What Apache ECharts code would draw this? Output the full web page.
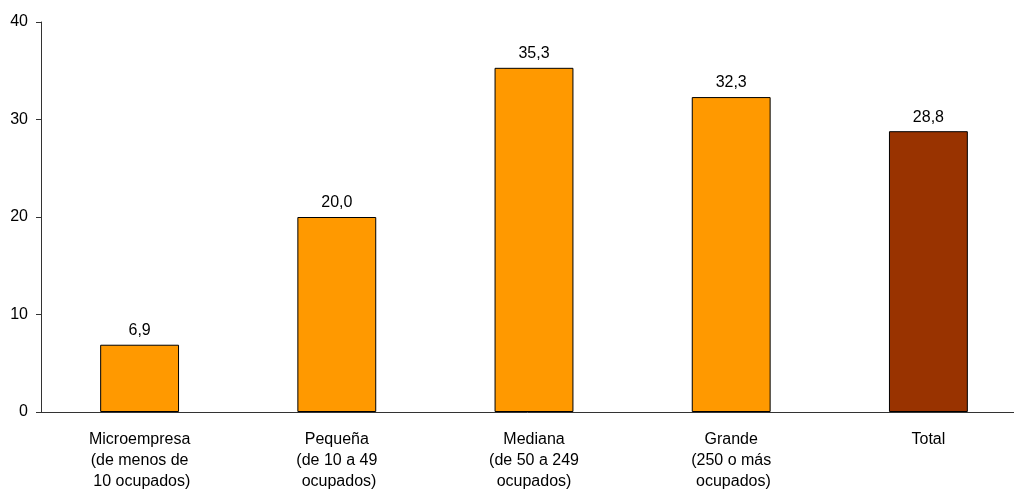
<!DOCTYPE html>
<html><head><meta charset="utf-8">
<script src="https://cdn.jsdelivr.net/npm/echarts@6/dist/echarts.min.js"></script>
<style>html,body{margin:0;padding:0;background:#fff}#c{width:1014px;height:489px}</style>
</head><body><div id="c"></div>
<script>
const categories = ["Microempresa\n(de menos de\n 10 ocupados)", "Pequeña\n(de 10 a 49\n ocupados)", "Mediana\n(de 50 a 249\nocupados)", "Grande\n(250 o más\n ocupados)", "Total"];
const values = [6.9, 20.0, 35.3, 32.3, 28.8];
const barColors = ["#FF9900", "#FF9900", "#FF9900", "#FF9900", "#993300"];
const yTicks = [0, 10, 20, 30, 40];

const chart = echarts.init(document.getElementById('c'), null, {renderer: 'canvas'});
chart.setOption({
  animation: false,
  backgroundColor: '#fff',
  textStyle: {fontFamily: 'Liberation Sans, Arial, sans-serif'},
  grid: {left: 41, top: 22, width: 986, height: 390, containLabel: false, outerBoundsMode: 'none'},
  xAxis: {
    type: 'category', data: categories, boundaryGap: true,
    axisLine: {lineStyle: {color: '#333', width: 1}},
    axisTick: {show: false},
    axisLabel: {color: '#000', fontSize: 16, lineHeight: 21, margin: 17, interval: 0,
      fontFamily: 'Liberation Sans, Arial, sans-serif'}
  },
  yAxis: {
    type: 'value', min: yTicks[0], max: yTicks[yTicks.length - 1], interval: 10,
    axisLine: {show: true, lineStyle: {color: '#333', width: 1}},
    axisTick: {show: true, length: 5, lineStyle: {color: '#333'}},
    splitLine: {show: false},
    axisLabel: {color: '#000', fontSize: 16, margin: 13,
      fontFamily: 'Liberation Sans, Arial, sans-serif'}
  },
  series: [{
    type: 'bar', barWidth: '40%',
    data: values.map((v, i) => ({value: v, itemStyle: {color: barColors[i]}})),
    itemStyle: {borderColor: '#000', borderWidth: 1},
    label: {show: true, position: 'top', distance: 6, color: '#000', fontSize: 16,
      fontFamily: 'Liberation Sans, Arial, sans-serif',
      formatter: p => p.value.toFixed(1).replace('.', ',')}
  }]
});
</script></body></html>
